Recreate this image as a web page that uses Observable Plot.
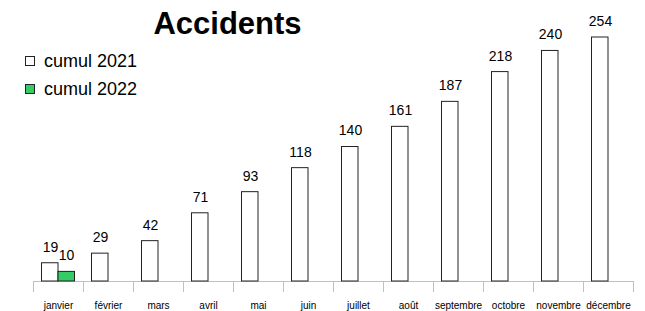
<!DOCTYPE html>
<html><head><meta charset="utf-8">
<script src="https://cdn.jsdelivr.net/npm/d3@7"></script>
<script src="https://cdn.jsdelivr.net/npm/@observablehq/plot@0.6"></script>
<style>
body{margin:0;background:#fff;font-family:"Liberation Sans",Arial,sans-serif;}
#wrap{position:relative;width:645px;height:311px;}
#title{position:absolute;left:0;width:455px;top:6px;text-align:center;font-weight:bold;font-size:31px;line-height:36px;color:#000;}
.leg{position:absolute;left:25px;font-size:18px;line-height:20px;color:#000;display:flex;align-items:center;}
.sw{width:8px;height:8px;border:1px solid #222;margin-right:9px;display:inline-block;}
</style></head>
<body>
<div id="wrap">
<div id="chart"></div>
<div id="title">Accidents</div>
<div class="leg" style="top:51px"><span class="sw" style="background:#fff"></span>cumul 2021</div>
<div class="leg" style="top:79px"><span class="sw" style="background:#33cc66"></span>cumul 2022</div>
</div>
<script>
const months = ["janvier","février","mars","avril","mai","juin","juillet","août","septembre","octobre","novembre","décembre"];
const cumul2021 = [19,29,42,71,93,118,140,161,187,218,240,254];
const cumul2022 = [10];

const d21 = months.map((m,i)=>({month:m, value:cumul2021[i]}));
const d22 = cumul2022.map((v,i)=>({month:months[i], value:v}));

const chart = Plot.plot({
  width: 645, height: 311,
  marginLeft: 33, marginRight: 12, marginTop: 37, marginBottom: 30,
  style: {fontFamily: '"Liberation Sans", Arial, sans-serif', background: "#fff"},
  x: {domain: months, padding: 0, label: null},
  y: {domain: [0, 254], nice: false, axis: null},
  marks: [
    Plot.axisX({tickSize: 0, tickPadding: 20, fontSize: 10, label: null, fill: "#000"}),
    Plot.ruleY([0], {stroke: "#c0c0c0"}),
    Plot.ruleX(months, {x: d=>d, dx: -25, y1: 0, y2: 0, insetTop: 11, stroke: "#c0c0c0"}),
    Plot.ruleX(months.slice(-1), {x: d=>d, dx: 25, y1: 0, y2: 0, insetTop: 11, stroke: "#c0c0c0"}),
    Plot.barY(d21, {x: "month", y: "value", fill: "#fff", stroke: "#222", insetLeft: 8.5, insetRight: 25}),
    Plot.barY(d22, {x: "month", y: "value", fill: "#33cc66", stroke: "#222", insetLeft: 25, insetRight: 8.5}),
    Plot.text(d21, {x: "month", y: "value", text: "value", dx: -8, dy: -16, fontSize: 14, fill: "#000"}),
    Plot.text(d22, {x: "month", y: "value", text: "value", dx: 8, dy: -16, fontSize: 14, fill: "#000"})
  ]
});
document.getElementById("chart").appendChild(chart);
</script>
</body></html>
